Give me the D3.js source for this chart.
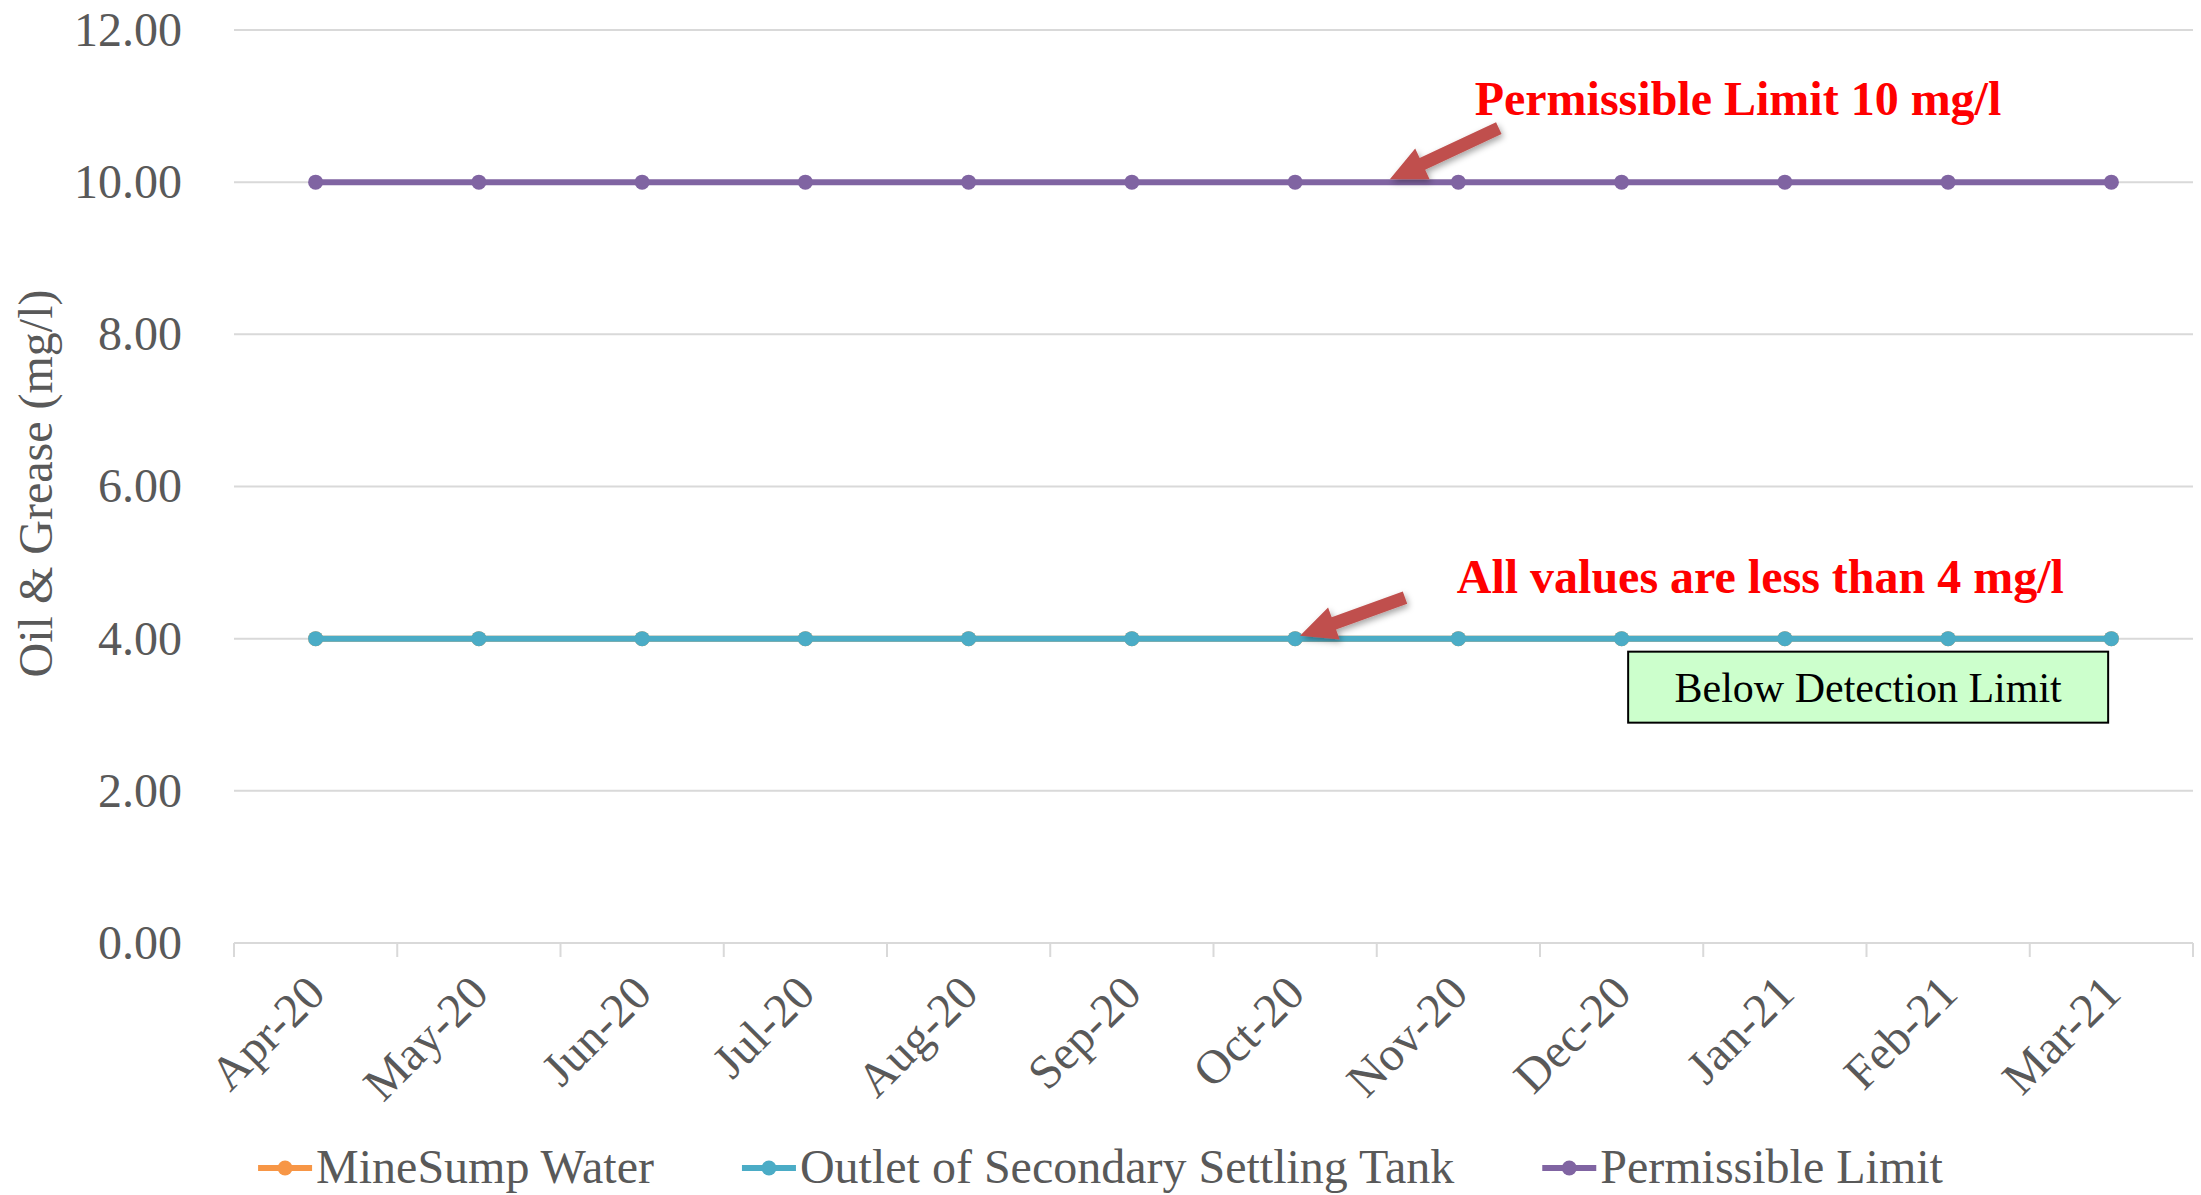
<!doctype html>
<html lang="en">
<head>
  <meta charset="utf-8">
  <script src="https://d3js.org/d3.v7.min.js"></script>
  <style>
    body { margin: 0; background: #fff; }
    svg { display: block; font-family: "Liberation Serif", "Times New Roman", serif; }
  </style>
</head>
<body>
  <svg id="chart"></svg>
  <script>
    // data
    const months = ["Apr-20", "May-20", "Jun-20", "Jul-20", "Aug-20", "Sep-20",
                    "Oct-20", "Nov-20", "Dec-20", "Jan-21", "Feb-21", "Mar-21"];
    // BDL values plotted at 4 (hidden under the outlet line)
    const mineSump = [4, 4, 4, 4, 4, 4, 4, 4, 4, 4, 4, 4];
    const outletSST = [4, 4, 4, 4, 4, 4, 4, 4, 4, 4, 4, 4];
    const permissible = [10, 10, 10, 10, 10, 10, 10, 10, 10, 10, 10, 10];
    const yTicks = [0, 2, 4, 6, 8, 10, 12];

    const seriesNames = ["MineSump Water", "Outlet of Secondary Settling Tank", "Permissible Limit"];
    const seriesColors = ["#F79646", "#4BACC6", "#8064A2"];
    const seriesValues = [mineSump, outletSST, permissible];

    const width = 2201, height = 1195;
    const margin = {top: 30, right: 8, bottom: 252, left: 234};
    const grey = "#595959";
    const gridColor = "#d9d9d9";

    const svg = d3.select("#chart")
      .attr("width", width)
      .attr("height", height)
      .attr("viewBox", [0, 0, width, height]);

    const x = d3.scaleBand()
      .domain(months)
      .range([margin.left, width - margin.right]);

    const y = d3.scaleLinear()
      .domain([0, 12])
      .range([height - margin.bottom, margin.top]);

    const cx = m => x(m) + x.bandwidth() / 2;

    // gridlines
    svg.append("g")
      .selectAll("line")
      .data(yTicks.filter(d => d > 0))
      .join("line")
        .attr("x1", margin.left)
        .attr("x2", width - margin.right)
        .attr("y1", d => y(d))
        .attr("y2", d => y(d))
        .attr("stroke", gridColor)
        .attr("stroke-width", 2);

    // y axis labels
    const yAxis = g => g
      .attr("transform", `translate(${margin.left},0)`)
      .call(d3.axisLeft(y).tickValues(yTicks).tickFormat(d3.format(".2f")).tickSize(0).tickPadding(52))
      .call(g => g.select(".domain").remove())
      .call(g => g.selectAll("text")
        .attr("fill", grey)
        .attr("font-size", 48)
        .attr("font-family", "Liberation Serif, Times New Roman, serif"));
    svg.append("g").call(yAxis);

    // x axis line + ticks at category boundaries
    const xg = svg.append("g");
    xg.append("line")
      .attr("x1", margin.left)
      .attr("x2", width - margin.right)
      .attr("y1", y(0))
      .attr("y2", y(0))
      .attr("stroke", gridColor)
      .attr("stroke-width", 2);
    xg.selectAll("line.tick")
      .data(months.concat([null]))
      .join("line")
        .attr("class", "tick")
        .attr("x1", (d, i) => margin.left + i * x.step())
        .attr("x2", (d, i) => margin.left + i * x.step())
        .attr("y1", y(0))
        .attr("y2", y(0) + 14)
        .attr("stroke", gridColor)
        .attr("stroke-width", 2);
    xg.selectAll("text")
      .data(months)
      .join("text")
        .attr("transform", d => `translate(${cx(d) - 12},${y(0) + 29}) rotate(-45)`)
        .attr("text-anchor", "end")
        .attr("dy", "0.7em")
        .attr("fill", grey)
        .attr("font-size", 48)
        .text(d => d);

    // y axis title
    svg.append("text")
      .attr("transform", `translate(52,${(y(0) + y(12)) / 2 - 3}) rotate(-90)`)
      .attr("text-anchor", "middle")
      .attr("fill", grey)
      .attr("font-size", 48)
      .text("Oil & Grease (mg/l)");

    // series lines and markers
    const line = d3.line()
      .x((d, i) => cx(months[i]))
      .y(d => y(d));

    seriesValues.forEach((vals, k) => {
      const g = svg.append("g");
      g.append("path")
        .datum(vals)
        .attr("fill", "none")
        .attr("stroke", seriesColors[k])
        .attr("stroke-width", 6)
        .attr("d", line);
      g.selectAll("circle")
        .data(vals)
        .join("circle")
          .attr("cx", (d, i) => cx(months[i]))
          .attr("cy", d => y(d))
          .attr("r", 7.5)
          .attr("fill", seriesColors[k]);
    });

    // annotations
    const defs = svg.append("defs");
    const f = defs.append("filter").attr("id", "shadow")
      .attr("x", "-30%").attr("y", "-30%").attr("width", "160%").attr("height", "160%");
    f.append("feDropShadow").attr("dx", 2).attr("dy", 3).attr("stdDeviation", 3)
      .attr("flood-color", "#000").attr("flood-opacity", 0.35);

    // arrow tips sit on the data lines; tails are offsets in px
    const arrows = [
      {month: "Oct-20", shift: 0.58, value: 10, tail: [109, -51]},
      {month: "Oct-20", shift: 0.03, value: 4, tail: [105, -38]}
    ];
    function arrowPath(tx, ty, ax, ay) {
      const dx = ax - tx, dy = ay - ty;
      const len = Math.hypot(dx, dy);
      const ux = dx / len, uy = dy / len;   // from tip toward tail
      const px = -uy, py = ux;
      const headLen = 36, headW = 17, shaftW = 6.5;
      const bx = tx + ux * headLen, by = ty + uy * headLen;
      const pts = [
        [tx, ty],
        [bx + px * headW, by + py * headW],
        [bx + px * shaftW, by + py * shaftW],
        [ax + px * shaftW, ay + py * shaftW],
        [ax - px * shaftW, ay - py * shaftW],
        [bx - px * shaftW, by - py * shaftW],
        [bx - px * headW, by - py * headW]
      ];
      return "M" + pts.map(p => p.join(",")).join("L") + "Z";
    }
    svg.append("g")
      .selectAll("path")
      .data(arrows)
      .join("path")
        .attr("d", d => {
          const tx = cx(d.month) + d.shift * x.step();
          const ty = y(d.value) - 3;
          return arrowPath(tx, ty, tx + d.tail[0], ty + d.tail[1]);
        })
        .attr("fill", "#C0504D")
        .attr("filter", "url(#shadow)");

    const notes = [
      {text: "Permissible Limit 10 mg/l", month: "Nov-20", shift: 0.6, value: 10, dy: -67},
      {text: "All values are less than 4 mg/l", month: "Nov-20", shift: 0.49, value: 4, dy: -46}
    ];
    svg.append("g")
      .selectAll("text")
      .data(notes)
      .join("text")
        .attr("x", d => x(d.month) + d.shift * x.step())
        .attr("y", d => y(d.value) + d.dy)
        .attr("fill", "#FF0000")
        .attr("font-weight", "bold")
        .attr("font-size", 48)
        .text(d => d.text);

    // "Below Detection Limit" box
    const box = svg.append("g")
      .attr("transform", `translate(${x("Dec-20") + 0.54 * x.step()},${y(4) + 13})`);
    box.append("rect")
      .attr("width", 480)
      .attr("height", 71)
      .attr("fill", "#CCFFCC")
      .attr("stroke", "#000")
      .attr("stroke-width", 2);
    box.append("text")
      .attr("x", 240)
      .attr("y", 50)
      .attr("text-anchor", "middle")
      .attr("fill", "#000")
      .attr("font-size", 42)
      .text("Below Detection Limit");

    // legend, centred on the whole chart
    const legendY = 1168;
    const legend = svg.append("g");
    const items = legend.selectAll("g")
      .data(seriesNames)
      .join("g");
    items.append("line")
      .attr("x1", 0).attr("x2", 54)
      .attr("y1", legendY).attr("y2", legendY)
      .attr("stroke", (d, i) => seriesColors[i])
      .attr("stroke-width", 6);
    items.append("circle")
      .attr("cx", 27).attr("cy", legendY).attr("r", 7.5)
      .attr("fill", (d, i) => seriesColors[i]);
    items.append("text")
      .attr("x", 58)
      .attr("y", legendY + 15)
      .attr("fill", grey)
      .attr("font-size", 48)
      .text(d => d);
    const gap = 88;
    let pos = 0;
    const offsets = [];
    items.each(function() {
      offsets.push(pos);
      const w = d3.select(this).select("text").node().getComputedTextLength();
      pos += 58 + w + gap;
    });
    const total = pos - gap;
    const start = width / 2 - total / 2;
    items.attr("transform", (d, i) => `translate(${start + offsets[i]},0)`);
  </script>
</body>
</html>
